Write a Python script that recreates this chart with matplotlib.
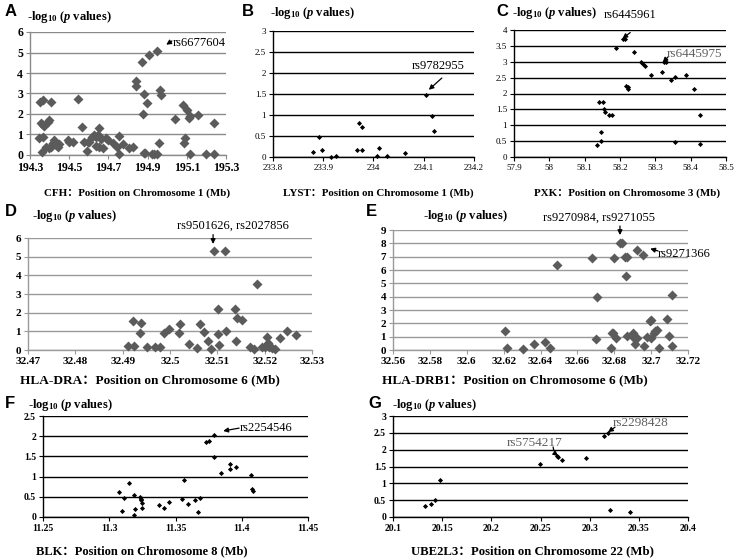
import matplotlib.pyplot as plt
import numpy as np

plt.rcParams['font.family'] = ['Liberation Serif', 'Noto Sans CJK SC']
plt.rcParams['mathtext.fontset'] = 'custom'
plt.rcParams['mathtext.rm'] = 'Liberation Serif:bold'
plt.rcParams['mathtext.it'] = 'Liberation Serif:italic:bold'
plt.rcParams['mathtext.bf'] = 'Liberation Serif:bold'

# ---- data (position in Mb, -log10 p) ----
a_pos = [194.348, 194.350, 194.364, 194.356, 194.364, 194.371, 194.360, 194.367, 194.380,
         194.390, 194.398, 194.407, 194.396, 194.407, 194.415, 194.423, 194.432, 194.441,
         194.449, 194.492, 194.500, 194.517, 194.543, 194.565, 194.577, 194.589, 194.594,
         194.602, 194.616, 194.628, 194.637, 194.645, 194.654, 194.654, 194.662, 194.637,
         194.650, 194.671, 194.688, 194.696, 194.722, 194.742, 194.752, 194.752, 194.773,
         194.807, 194.827, 194.841, 194.841, 194.871, 194.880, 194.878, 194.880, 194.887,
         194.899, 194.909, 194.923, 194.935, 194.948, 194.946, 194.959, 194.963, 194.968,
         195.040, 195.079, 195.084, 195.092, 195.101, 195.109, 195.117, 195.117, 195.155,
         195.197, 195.240, 195.237]
a_logp = [0.82, 2.60, 2.70, 1.55, 1.47, 1.40, 0.16, 0.90, 0.40,
          1.63, 1.72, 2.60, 0.33, 0.40, 0.57, 0.73, 0.49, 0.40,
          0.54, 0.73, 0.65, 0.65, 2.74, 1.39, 0.65, 0.20, 0.65,
          0.65, 0.90, 0.98, 0.90, 0.98, 1.34, 0.93, 0.77, 0.44,
          0.40, 0.33, 0.82, 0.74, 0.57, 0.41, 0.93, 0.05, 0.54,
          0.33, 0.41, 3.59, 3.38, 4.52, 2.97, 2.00, 0.11, 0.08,
          2.53, 4.90, 0.05, 0.05, 5.06, 0.05, 0.60, 3.15, 2.94,
          1.76, 2.45, 0.60, 0.82, 2.20, 1.79, 1.88, 0.05, 1.93,
          0.05, 0.05, 1.55]

b_pos = [233.880, 233.891, 233.898, 233.915, 233.925, 233.968, 233.972, 233.977,
         233.978, 234.006, 234.011, 234.026, 234.063, 234.105, 234.116, 234.120]
b_logp = [0.13, 0.47, 0.17, 0.00, 0.03, 0.17, 0.82, 0.71,
          0.17, 0.02, 0.21, 0.02, 0.09, 1.48, 0.98, 0.62]

c_pos = [58.136, 58.141, 58.153, 58.146, 58.146, 58.155, 58.158, 58.169, 58.177,
         58.189, 58.208, 58.213, 58.216, 58.224, 58.224, 58.240, 58.259, 58.264,
         58.270, 58.288, 58.320, 58.325, 58.331, 58.345, 58.357, 58.357, 58.388,
         58.410, 58.425, 58.427]
c_logp = [0.37, 1.73, 1.73, 0.79, 0.51, 1.51, 1.41, 1.33, 1.33,
          3.42, 3.71, 3.73, 2.24, 2.14, 2.20, 3.30, 2.98, 2.93,
          2.87, 2.59, 2.69, 2.98, 3.00, 2.41, 2.53, 0.47, 2.59,
          2.14, 1.31, 0.42]

d_pos = [32.4912, 32.4925, 32.4922, 32.4939, 32.4936, 32.4951, 32.4968, 32.4979,
         32.4987, 32.4998, 32.5020, 32.5022, 32.5040, 32.5056, 32.5064, 32.5072,
         32.5081, 32.5086, 32.5094, 32.5101, 32.5101, 32.5104, 32.5116, 32.5119,
         32.5138, 32.5139, 32.5141, 32.5153, 32.5169, 32.5178, 32.5184, 32.5194,
         32.5201, 32.5205, 32.5207, 32.5210, 32.5215, 32.5222, 32.5232, 32.5248,
         32.5267]
d_logp = [0.21, 0.21, 1.55, 1.42, 0.93, 0.14, 0.14, 0.14,
          0.89, 1.10, 0.93, 1.39, 0.30, 0.12, 1.37, 0.98,
          0.48, 0.04, 5.28, 2.17, 0.85, 0.27, 5.28, 1.01,
          2.22, 0.48, 1.74, 1.60, 0.14, 0.05, 3.56, 0.18,
          0.18, 0.71, 0.39, 0.18, 0.12, 0.04, 0.62, 1.01,
          0.80]

e_pos = [32.6209, 32.6217, 32.6305, 32.6363, 32.6426, 32.6450, 32.6491, 32.6681,
         32.6699, 32.6706, 32.6784, 32.6788, 32.6793, 32.6799, 32.6812, 32.6830,
         32.6844, 32.6857, 32.6866, 32.6871, 32.6871, 32.6902, 32.6907, 32.6914,
         32.6923, 32.6925, 32.6958, 32.6961, 32.6980, 32.6992, 32.6998, 32.6998,
         32.7014, 32.7023, 32.7034, 32.7041, 32.7088, 32.7097, 32.7113, 32.7115]
e_logp = [1.43, 0.18, 0.05, 0.43, 0.63, 0.18, 6.38, 6.88,
          0.80, 4.00, 0.13, 1.30, 1.25, 6.88, 0.93, 8.00,
          8.00, 7.00, 5.55, 6.95, 1.05, 1.25, 0.93, 0.43,
          0.88, 7.50, 7.13, 0.30, 1.00, 2.20, 0.93, 2.25,
          1.30, 1.45, 1.50, 0.13, 2.30, 1.05, 0.30, 4.13]

f_pos = [11.3071, 11.3109, 11.3099, 11.3149, 11.3187, 11.3187, 11.3192, 11.3230,
         11.3237, 11.3242, 11.3250, 11.3250, 11.3373, 11.3411, 11.3448, 11.3549,
         11.3562, 11.3592, 11.3650, 11.3669, 11.3682, 11.3733, 11.3753, 11.3792,
         11.3792, 11.3846, 11.3914, 11.3914, 11.3954, 11.4072, 11.4080, 11.4085]
f_logp = [0.62, 0.48, 0.15, 0.85, 0.55, 0.06, 0.21, 0.50,
          0.45, 0.43, 0.35, 0.22, 0.29, 0.22, 0.37, 0.45,
          0.91, 0.31, 0.43, 0.12, 0.48, 1.86, 1.88, 2.04,
          1.49, 1.09, 1.32, 1.18, 1.24, 1.05, 0.69, 0.64]

g_pos = [20.1322, 20.1390, 20.1424, 20.1481, 20.2492, 20.2671, 20.2678, 20.2719,
         20.2960, 20.3142, 20.3186, 20.3203, 20.3414]
g_logp = [0.32, 0.40, 0.50, 1.09, 1.58, 1.80, 1.78, 1.68,
          1.76, 2.40, 2.50, 0.22, 0.15]

W, H = 735, 559
fig = plt.figure(figsize=(W / 100, H / 100), dpi=100)


def box(x0, y0, x1, y1):
    return [x0 / W, 1 - y1 / H, (x1 - x0) / W, (y1 - y0) / H]


def ftext(x, y, s, **kw):
    fig.text(x / W, 1 - y / H, s, **kw)


def panel(rect, xs, ys, xlim, xstep, ylim, ystep, big, gcol, tsize, tweight):
    ax = fig.add_axes(rect)
    if big:
        ax.plot(xs, ys, 'D', ms=4.6, color='#5b5b5b', mec='none', clip_on=False, zorder=3)
    else:
        ax.plot(xs, ys, 'D', ms=2.6, color='black', mec='none', clip_on=False, zorder=3)
    ax.set_xlim(xlim)
    ax.set_ylim(ylim)
    xt = np.round(np.arange(xlim[0], xlim[1] + xstep / 2, xstep), 4)
    yt = np.round(np.arange(ylim[0], ylim[1] + ystep / 2, ystep), 4)
    ax.set_xticks(xt)
    ax.set_xticklabels(['%g' % v for v in xt])
    ax.set_yticks(yt)
    ax.set_yticklabels(['%g' % v for v in yt])
    ax.tick_params(labelsize=tsize, length=3, width=0.8, color=gcol, pad=2)
    for lab in ax.get_xticklabels() + ax.get_yticklabels():
        lab.set_fontweight(tweight)
    ax.grid(axis='y', color=gcol, lw=1.0)
    ax.set_axisbelow(True)
    for s in ['top', 'right']:
        ax.spines[s].set_visible(False)
    for s in ['left', 'bottom']:
        ax.spines[s].set_color(gcol)
        ax.spines[s].set_linewidth(1.0)
    ax.patch.set_alpha(0)
    return ax


ylab = r'-log$_{10}$ ($p$ values)'
arrow = dict(arrowstyle='-|>', color='black', lw=0.9, mutation_scale=7, shrinkA=0, shrinkB=0)

# A
ax = panel(box(30, 32, 226, 155), a_pos, a_logp, (194.3, 195.3), 0.2, (0, 6), 1,
           True, '#8a8a8a', 8.5, 'bold')
ax.annotate('', xy=(194.995, 5.38), xytext=(195.024, 5.56), arrowprops=arrow)
ax.text(195.03, 5.45, 'rs6677604', fontsize=9, ha='left', va='center')

# B
ax = panel(box(273, 31, 474, 157), b_pos, b_logp, (233.8, 234.2), 0.1, (0, 3), 0.5,
           False, 'black', 6.5, 'normal')
ax.annotate('', xy=(234.110, 1.60), xytext=(234.136, 1.88), arrowprops=arrow)
ax.text(234.077, 2.17, 'rs9782955', fontsize=9, ha='left', va='center')

# C
ax = panel(box(514, 30, 726, 157), c_pos, c_logp, (57.9, 58.5), 0.1, (0, 4), 0.5,
           False, 'black', 6.5, 'normal')
ax.annotate('', xy=(58.207, 3.73), xytext=(58.229, 3.92), arrowprops=arrow)
ax.text(58.229, 4.47, 'rs6445961', fontsize=9, ha='center', va='center', clip_on=False)
ax.annotate('', xy=(58.321, 2.98), xytext=(58.336, 3.15), arrowprops=arrow)
ax.text(58.333, 3.24, 'rs6445975', fontsize=9.5, ha='left', va='center', color='#606060')

# D
ax = panel(box(28, 238, 312, 350), d_pos, d_logp, (32.47, 32.53), 0.01, (0, 6), 1,
           True, '#9a9a9a', 8, 'bold')
ax.annotate('', xy=(32.5091, 5.68), xytext=(32.5091, 6.18), arrowprops=arrow)
ax.text(32.5132, 6.32, 'rs9501626, rs2027856', fontsize=9, ha='center', va='bottom')

# E
ax = panel(box(393, 230, 688, 350), e_pos, e_logp, (32.56, 32.72), 0.02, (0, 9), 1,
           True, '#9a9a9a', 8, 'bold')
ax.annotate('', xy=(32.6831, 8.62), xytext=(32.6831, 9.3), arrowprops=arrow)
ax.text(32.6717, 9.45, 'rs9270984, rs9271055', fontsize=9, ha='center', va='bottom')
ax.annotate('', xy=(32.6995, 7.6), xytext=(32.7037, 7.43), arrowprops=arrow)
ax.text(32.7037, 7.2, 'rs9271366', fontsize=9, ha='left', va='center')

# F
ax = panel(box(43, 416, 308, 517), f_pos, f_logp, (11.25, 11.45), 0.05, (0, 2.5), 0.5,
           False, 'black', 7, 'bold')
ax.annotate('', xy=(11.386, 2.13), xytext=(11.398, 2.2), arrowprops=arrow)
ax.text(11.3987, 2.2, 'rs2254546', fontsize=9, ha='left', va='center')

# G
ax = panel(box(393, 416, 688, 517), g_pos, g_logp, (20.1, 20.4), 0.05, (0, 3), 0.5,
           False, 'black', 7, 'bold')
ax.annotate('', xy=(20.3187, 2.52), xytext=(20.3258, 2.67), arrowprops=arrow)
ax.text(20.3238, 2.79, 'rs2298428', fontsize=9.5, ha='left', va='center', color='#606060')
ax.annotate('', xy=(20.2679, 1.81), xytext=(20.2628, 2.08),
            arrowprops=dict(arrow, connectionstyle='arc3,rad=0.2'))
ax.text(20.216, 2.2, 'rs5754217', fontsize=9.5, ha='left', va='center', color='#606060')

# y labels
for x, y in [(27, 17), (270, 13), (512, 13), (32, 216), (423, 216), (28, 405), (392, 405)]:
    ftext(x, y, ylab, fontsize=9, fontweight='bold', ha='left', va='center')

# panel letters
for x, y, s in [(5, 12, 'A'), (242, 12, 'B'), (496, 12, 'C'), (5, 212, 'D'),
                (366, 212, 'E'), (5, 404, 'F'), (368, 404, 'G')]:
    ftext(x, y, s, fontsize=12, fontweight='bold', family='Liberation Sans',
          ha='left', va='center')

# x labels
xlabs = [(137, 193, 'CFH：Position on Chromosome 1 (Mb)', 7.9),
         (378, 193, 'LYST：Position on Chromosome 1 (Mb)', 7.9),
         (627, 193, 'PXK：Position on Chromosome 3 (Mb)', 7.9),
         (150, 380, 'HLA-DRA：Position on Chromosome 6 (Mb)', 9.5),
         (515, 380, 'HLA-DRB1：Position on Chromosome 6 (Mb)', 9.5),
         (142, 551, 'BLK：Position on Chromosome 8 (Mb)', 9),
         (532, 551, 'UBE2L3：Position on Chromosome 22 (Mb)', 9.2)]
for x, y, s, fs in xlabs:
    ftext(x, y, s, fontsize=fs, fontweight='bold', ha='center', va='center')

fig.savefig('out.png', dpi=100)
